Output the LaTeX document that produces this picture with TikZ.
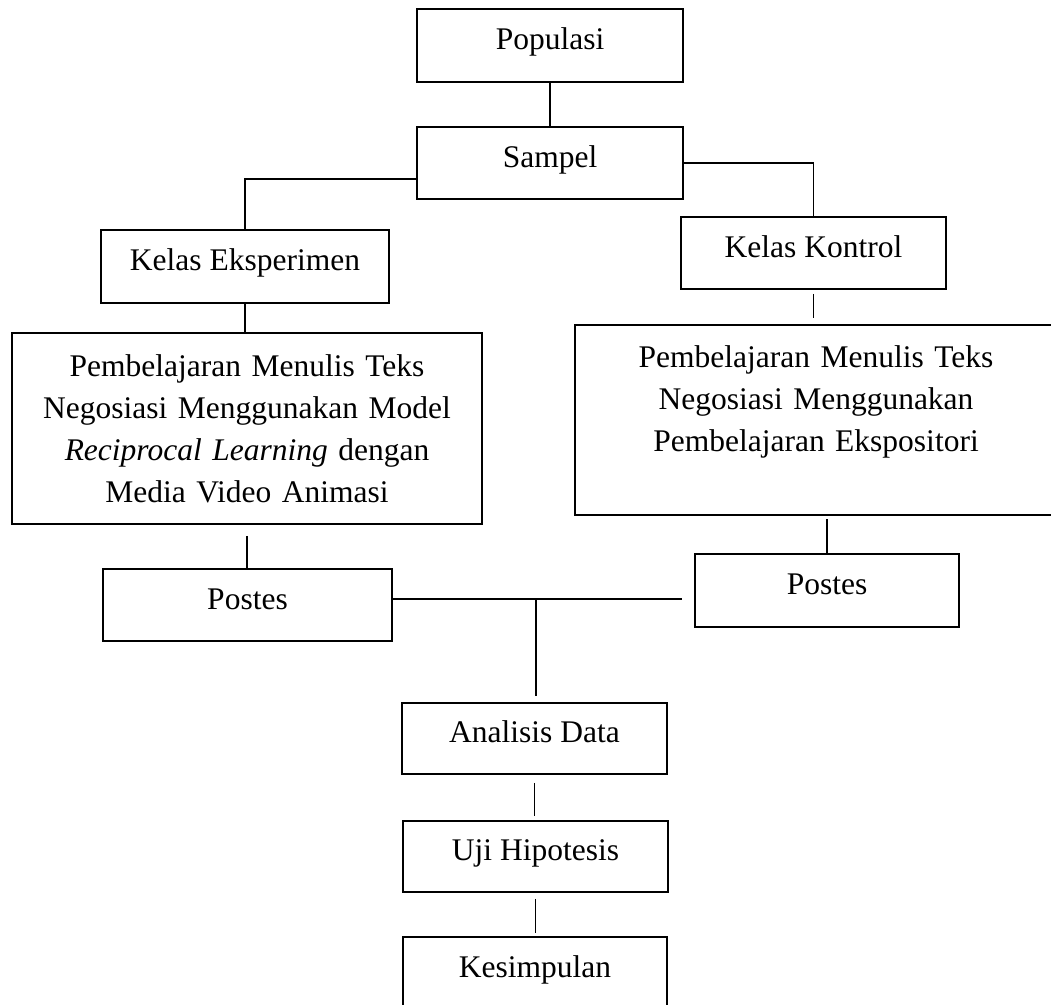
\documentclass[tikz,border=0pt]{standalone}
\usepackage{fontspec}
\setmainfont{Liberation Serif}
\usetikzlibrary{calc}
\begin{document}
\begin{tikzpicture}[x=1pt,y=-1pt,
  box/.style={draw, line width=1.6pt, inner sep=0pt, font=\fontsize{31.5}{42}\selectfont},
  one/.style={box, text height=22pt, text depth=14pt},
  multi/.style={box, text width=455pt, align=center},
  conn/.style={line width=1.6pt}]
\useasboundingbox (0,0) rectangle (1051,1004);
\clip (0,0) rectangle (1051,1004);

\node[one, minimum width=266pt, minimum height=73pt] (pop) at (550,45.5) {Populasi};
\node[one, minimum width=266pt, minimum height=72pt] (sam) at (550,163) {Sampel};
\node[one, minimum width=288pt, minimum height=73pt] (ke) at (245,266.5) {Kelas Eksperimen};
\node[one, minimum width=265pt, minimum height=72pt] (kk) at (813.5,253) {Kelas Kontrol};
\node[multi, minimum width=470pt, minimum height=191pt] (pl) at (247,428.5)
  {Pembelajaran Menulis Teks\\Negosiasi Menggunakan Model\\\textit{Reciprocal Learning} dengan\\Media Video Animasi};
\node[multi, minimum width=482pt, minimum height=190pt] (pr) at (816,420)
  {Pembelajaran Menulis Teks\\Negosiasi Menggunakan\\Pembelajaran Ekspositori\\\mbox{}};
\node[one, minimum width=289pt, minimum height=72pt] (psl) at (247.5,605) {Postes};
\node[one, minimum width=264pt, minimum height=73pt] (psr) at (827,590.5) {Postes};
\node[one, minimum width=265pt, minimum height=71pt] (ad) at (534.5,738.5) {Analisis Data};
\node[one, minimum width=265pt, minimum height=71pt] (uji) at (535.5,856.5) {Uji Hipotesis};
\node[one, minimum width=264pt, minimum height=72pt] (kes) at (535,973) {Kesimpulan};

\coordinate (j) at (536,599);

\draw[conn] (pop.south) -- (sam.north);
\draw[conn] ($(sam.south west)+(0,-21)$) -| (ke.north);
\draw[conn] (sam.east) -| (kk.north);
\draw[conn] (ke.south) -- (ke.south |- pl.north);
\draw[conn, shorten <=4pt, shorten >=6pt] (kk.south) -- (kk.south |- pr.north);
\draw[conn, shorten <=11pt] (pl.south) -- (pl.south |- psl.north);
\draw[conn, shorten >=3pt] (psr.north) -- (psr.north |- pr.south);
\draw[conn] (psl.east |- j) -- (j);
\draw[conn, shorten >=12pt] (j) -- (psr.west |- j);
\draw[conn, shorten >=6pt] (j) -- (j |- ad.north);
\draw[conn, shorten <=8pt, shorten >=4pt] (ad.south) -- (ad.south |- uji.north);
\draw[conn, shorten <=6pt, shorten >=3pt] (uji.south) -- (uji.south |- kes.north);
\end{tikzpicture}
\end{document}
